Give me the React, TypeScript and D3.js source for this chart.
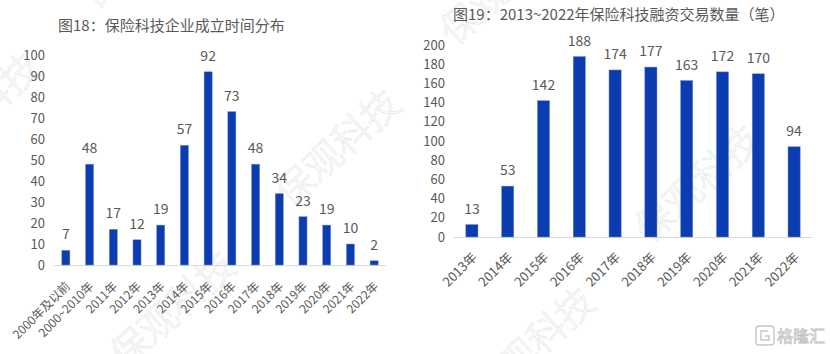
import React from "react";
import * as d3 from "d3";

const leftTitle = "图18：保险科技企业成立时间分布";
const leftCats = ["2000年及以前", "2000~2010年", "2011年", "2012年", "2013年", "2014年", "2015年", "2016年", "2017年", "2018年", "2019年", "2020年", "2021年", "2022年"];
const leftValues = [7, 48, 17, 12, 19, 57, 92, 73, 48, 34, 23, 19, 10, 2];
const leftTicks = [0, 10, 20, 30, 40, 50, 60, 70, 80, 90, 100];

const rightTitle = "图19：2013~2022年保险科技融资交易数量（笔）";
const rightCats = ["2013年", "2014年", "2015年", "2016年", "2017年", "2018年", "2019年", "2020年", "2021年", "2022年"];
const rightValues = [13, 53, 142, 188, 174, 177, 163, 172, 170, 94];
const rightTicks = [0, 20, 40, 60, 80, 100, 120, 140, 160, 180, 200];

const watermarkText = "保观科技";
const logoText = "格隆汇";

const FONT = "'Noto Sans CJK SC', 'Noto Sans', sans-serif";
const TEXT = "#595959";
const BAR = "#0b3cb0";

type PanelProps = {
  cats: string[];
  values: number[];
  ticks: number[];
  x0: number; x1: number; y0: number; y1: number; max: number;
  tickX: number; labelDx: number; labelDy: number; labelSize: number;
};

function Panel(p: PanelProps) {
  const x = d3.scaleBand<string>().domain(p.cats).range([p.x0, p.x1]).paddingInner(0.66).paddingOuter(0.33);
  const y = d3.scaleLinear().domain([0, p.max]).range([p.y0, p.y1]);
  return (
    <g fontFamily={FONT}>
      {p.ticks.map((t) => (
        <text key={t} x={p.tickX} y={y(t)} dy="0.35em" textAnchor="end" fontSize={13} fill={TEXT}>{t}</text>
      ))}
      <line x1={p.x0} x2={p.x1} y1={p.y0 + 0.5} y2={p.y0 + 0.5} stroke="#d9d9d9" strokeWidth={1} />
      {p.cats.map((c, i) => {
        const bx = x(c)!;
        const bw = x.bandwidth();
        const top = y(p.values[i]);
        const cx = bx + bw / 2;
        return (
          <g key={c}>
            <rect x={bx} y={top} width={bw} height={p.y0 - top} fill={BAR} stroke="#6f8fd6" strokeWidth={0.5} />
            <text x={cx} y={top - 11} textAnchor="middle" fontSize={14} fill={TEXT}>{p.values[i]}</text>
            <text transform={`translate(${cx + p.labelDx},${p.y0 + p.labelDy}) rotate(-45)`} textAnchor="end" fontSize={p.labelSize} fill={TEXT}>{c}</text>
          </g>
        );
      })}
    </g>
  );
}

const wmEnds: [number, number][] = [[208, -91], [568, -55], [43, 71], [403, 107], [763, 143], [238, 269], [598, 305]];

export default function App() {
  return (
    <svg width={830} height={354} style={{ position: "absolute", left: 0, top: 0, background: "#fff" }}>
      <rect width={830} height={354} fill="#fff" />
      <g fontFamily={FONT}>
        {wmEnds.map(([ex, ey], i) => (
          <text key={i} transform={`translate(${ex},${ey}) rotate(-42)`} textAnchor="end" fontSize={38} fontWeight={300} fill="none" stroke="#e4e4e4" strokeWidth={0.6}>{watermarkText}</text>
        ))}
      </g>
      <text x={58} y={31} fontFamily={FONT} fontSize={15} fill={TEXT}>{leftTitle}</text>
      <text x={453} y={20} fontFamily={FONT} fontSize={15} fill={TEXT}>{rightTitle}</text>
      <Panel cats={leftCats} values={leftValues} ticks={leftTicks} x0={54} x1={386} y0={265} y1={55} max={100} tickX={45} labelDx={5} labelDy={22} labelSize={12} />
      <Panel cats={rightCats} values={rightValues} ticks={rightTicks} x0={454} x1={812} y0={237} y1={45} max={200} tickX={445} labelDx={6} labelDy={21} labelSize={13} />
      <g>
        <rect x={756} y={326} width={18} height={19} rx={3} fill="none" stroke="#c8c8c8" strokeWidth={1.5} />
        <path d="M768,331 L761,331 L761,340 L769,340 L769,336 L765,336" fill="none" stroke="#c8c8c8" strokeWidth={1.5} />
        <text x={777} y={342} fontFamily={FONT} fontSize={16} fill="none" stroke="#c4c4c4" strokeWidth={0.8}>{logoText}</text>
      </g>
    </svg>
  );
}
